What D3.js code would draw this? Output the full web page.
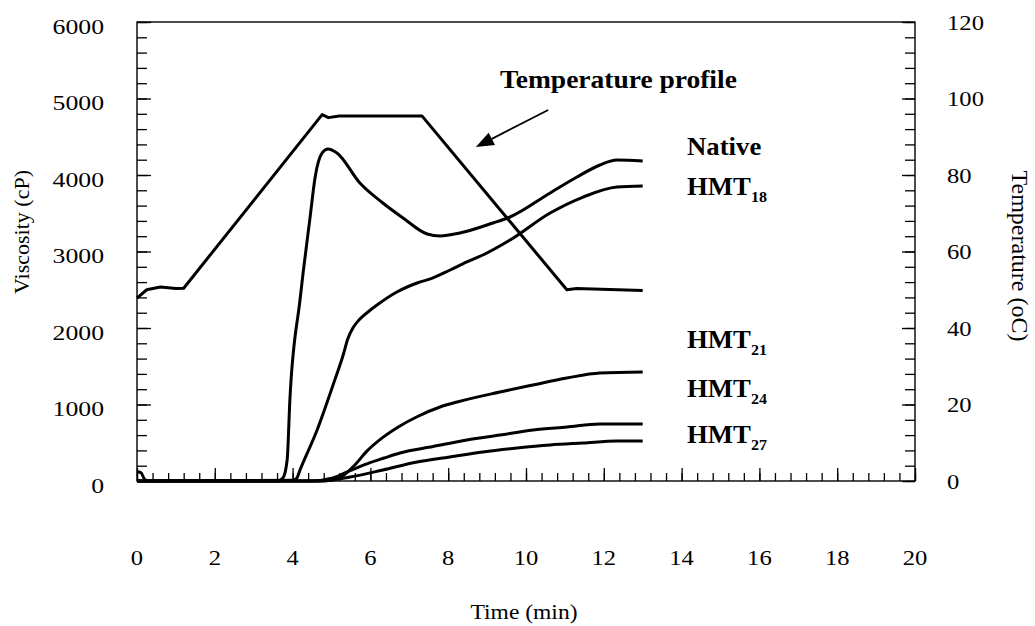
<!DOCTYPE html>
<html>
<head>
<meta charset="utf-8">
<script src="https://cdn.jsdelivr.net/npm/d3@7"></script>
<style>
body { margin: 0; background: #fff; }
text { font-family: "Liberation Serif", "Times New Roman", serif; fill: #000; }
</style>
</head>
<body>
<div class="fig"></div>
<script>
// axis tick labels
var timeTicks = [0, 2, 4, 6, 8, 10, 12, 14, 16, 18, 20];
var viscTicks = [0, 1000, 2000, 3000, 4000, 5000, 6000];
var tempTicks = [0, 20, 40, 60, 80, 100, 120];

// temperature profile (min, oC)
var tempTime = [0, 0.25, 0.6, 1.0, 1.2, 4.76, 4.92, 5.2, 7.33, 11.05, 11.3, 13.0];
var tempC    = [47.8, 50.0, 50.7, 50.3, 50.4, 95.8, 95.0, 95.4, 95.4, 50.0, 50.3, 49.8];

// viscosity curves (min, cP)
var nativeTime = [0, 0.1, 0.2, 0.35, 3.6, 3.75, 3.86, 3.93, 4.19, 4.27, 4.45, 4.58, 4.76, 4.91, 5.14, 5.73, 6.32, 6.84, 7.46, 7.79, 8.30, 9.15, 9.59, 10.62, 11.31, 11.90, 12.34, 13.0];
var nativeVisc = [120, 110, 20, 0, 0, 40, 275, 1060, 2366, 2720, 3450, 3974, 4288, 4340, 4288, 3895, 3634, 3438, 3229, 3203, 3242, 3373, 3451, 3765, 3974, 4131, 4196, 4183];

var hmt18Time = [0, 4.0, 4.11, 4.19, 4.63, 5.04, 5.30, 5.42, 5.55, 5.68, 5.81, 6.0, 6.17, 6.68, 7.20, 7.61, 8.05, 8.48, 8.89, 9.59, 10.62, 11.47, 12.34, 13.0];
var hmt18Visc = [0, 10, 40, 144, 667, 1255, 1647, 1860, 2000, 2090, 2155, 2235, 2300, 2470, 2588, 2654, 2758, 2863, 2954, 3150, 3503, 3712, 3843, 3856];

var hmt21Time = [0, 4.70, 5.04, 5.30, 5.60, 5.91, 6.32, 6.76, 7.20, 7.79, 8.23, 9.33, 10.18, 11.05, 11.90, 13.0];
var hmt21Visc = [0, 0, 13, 70, 210, 390, 570, 720, 840, 967, 1033, 1163, 1255, 1346, 1412, 1425];

var hmt24Time = [0, 4.45, 5.04, 5.45, 5.91, 6.35, 6.76, 7.61, 8.48, 9.33, 10.18, 11.05, 11.90, 13.0];
var hmt24Visc = [0, 0, 40, 130, 225, 300, 366, 450, 536, 601, 667, 706, 745, 745];

var hmt27Time = [0, 4.70, 5.48, 6.32, 7.20, 8.05, 8.89, 9.77, 10.62, 11.47, 12.34, 13.0];
var hmt27Visc = [0, 0, 52, 144, 248, 314, 379, 431, 471, 497, 523, 523];

var seriesNames = ["Native", "HMT", "HMT", "HMT", "HMT"];
var seriesSubs  = ["", "18", "21", "24", "27"];
var labelVisc   = [4261, 3739, 1739, 1098, 497];   // label baselines in cP

const svg = d3.select(".fig").append("svg")
    .attr("width", 1035)
    .attr("height", 626);

var x = d3.scaleLinear().domain([0, 20]).range([137, 915]);
var y = d3.scaleLinear().domain([0, 6000]).range([481, 22]);
var yT = d3.scaleLinear().domain([0, 120]).range([481, 22]);

function tickMarks(axis, tr, vals, size) {
  svg.append("g")
     .attr("transform", tr)
     .call(axis.tickValues(vals).tickSize(size).tickSizeOuter(0).tickFormat(""))
     .call(g => g.select(".domain").remove())
     .selectAll("line").attr("stroke", "#000").attr("stroke-width", 1.3);
}

var viscMinor = d3.range(0, 31).map(i => i * 200);
var tempMinor = d3.range(0, 31).map(i => i * 4);
var timeMinor = d3.range(0, 51).map(i => i * 0.4);

tickMarks(d3.axisRight(y), "translate(" + x(0) + ",0)", viscMinor, 10);
tickMarks(d3.axisRight(y), "translate(" + x(0) + ",0)", viscTicks, 14);
tickMarks(d3.axisLeft(yT), "translate(" + x(20) + ",0)", tempMinor, 10);
tickMarks(d3.axisLeft(yT), "translate(" + x(20) + ",0)", tempTicks, 13);
tickMarks(d3.axisTop(x), "translate(0," + y(0) + ")", timeMinor, 8);
tickMarks(d3.axisTop(x), "translate(0," + y(0) + ")", timeTicks, 13);

// frame
svg.append("rect")
   .attr("x", x(0)).attr("y", y(6000))
   .attr("width", x(20) - x(0)).attr("height", y(0) - y(6000))
   .attr("fill", "none").attr("stroke", "#000").attr("stroke-width", 1.4);

// stretched text helper (the scan is wider than tall)
function stext(px, py, str, size, sx, anchor, weight) {
  return svg.append("text")
     .attr("transform", "translate(" + px + "," + py + ") scale(" + sx + ",1)")
     .attr("text-anchor", anchor)
     .style("font-size", size + "px")
     .style("font-weight", weight || "normal")
     .text(str);
}

viscTicks.forEach(d => stext(104, y(d) + 11.5, d, 22, 1.17, "end"));
tempTicks.forEach(d => stext(947, yT(d) + 7.5, d, 22, 1.12, "start"));
timeTicks.forEach(d => stext(x(d), 565, d, 22, 1.12, "middle"));

stext(524, 619, "Time (min)", 22, 1.07, "middle");

svg.append("text")
   .attr("transform", "translate(29,232) rotate(-90)")
   .attr("text-anchor", "middle")
   .style("font-size", "22px")
   .text("Viscosity (cP)");

svg.append("text")
   .attr("transform", "translate(1012,256) rotate(90)")
   .attr("text-anchor", "middle")
   .style("font-size", "24px")
   .text("Temperature (oC)");

// curves
var lineV = d3.line()
   .x(d => x(d[0]))
   .y(d => y(d[1]))
   .curve(d3.curveMonotoneX);

var lineT = d3.line()
   .x(d => x(d[0]))
   .y(d => yT(d[1]));

var curves = [
  d3.zip(nativeTime, nativeVisc),
  d3.zip(hmt18Time, hmt18Visc),
  d3.zip(hmt21Time, hmt21Visc),
  d3.zip(hmt24Time, hmt24Visc),
  d3.zip(hmt27Time, hmt27Visc)
];

svg.selectAll(".visc")
   .data(curves)
   .enter().append("path")
   .attr("class", "visc")
   .attr("d", lineV)
   .attr("fill", "none")
   .attr("stroke", "#000")
   .attr("stroke-width", 3)
   .attr("stroke-linejoin", "round");

svg.append("path")
   .attr("d", lineT(d3.zip(tempTime, tempC)))
   .attr("fill", "none")
   .attr("stroke", "#000")
   .attr("stroke-width", 3)
   .attr("stroke-linejoin", "round");

// series labels
seriesNames.forEach(function(name, i) {
  var t = stext(x(14.14), y(labelVisc[i]), name, 25, 1.07, "start", "bold");
  if (seriesSubs[i]) {
    t.append("tspan")
     .attr("dy", 7)
     .style("font-size", "15px")
     .text(seriesSubs[i]);
  }
});

// temperature profile annotation
stext(x(9.33), y(5137), "Temperature profile", 25, 1.1, "start", "bold");

var tail = [x(10.57), yT(97)];
var tip = [x(8.71), yT(87.3)];
var ang = Math.atan2(tip[1] - tail[1], tip[0] - tail[0]);
var hl = 18, hw = 7;
var base = [tip[0] - hl * Math.cos(ang), tip[1] - hl * Math.sin(ang)];

svg.append("line")
   .attr("x1", tail[0]).attr("y1", tail[1])
   .attr("x2", base[0]).attr("y2", base[1])
   .attr("stroke", "#000").attr("stroke-width", 1.8);

svg.append("path")
   .attr("d", "M" + tip + "L" + [base[0] + hw * Math.sin(ang), base[1] - hw * Math.cos(ang)] +
              "L" + [base[0] - hw * Math.sin(ang), base[1] + hw * Math.cos(ang)] + "Z")
   .attr("fill", "#000");
</script>
</body>
</html>
